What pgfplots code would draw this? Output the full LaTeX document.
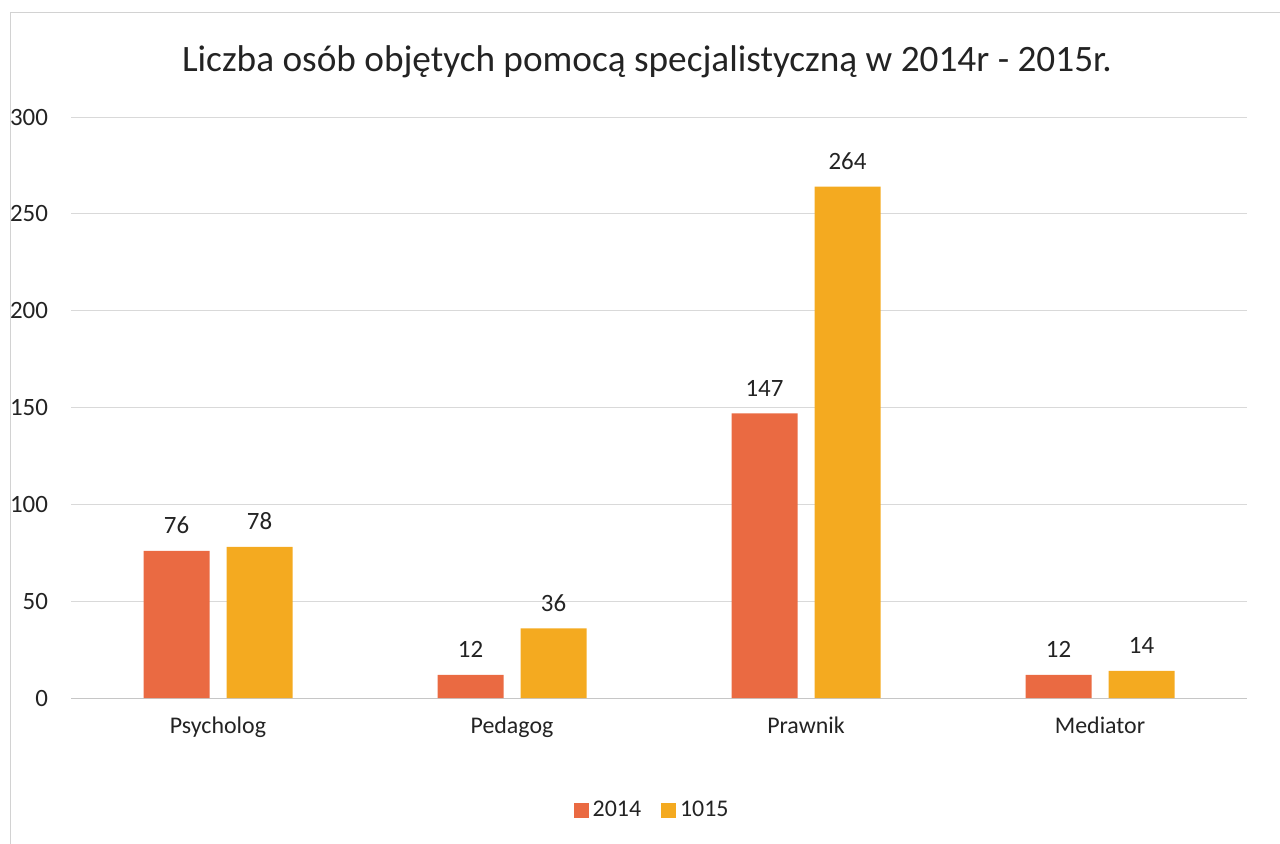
\documentclass[border=0pt]{standalone}
\usepackage{pgfplots}
\pgfplotsset{compat=1.18}
\usepackage{fontspec}
\setmainfont{Carlito}
\definecolor{cA}{RGB}{234,106,66}
\definecolor{cB}{RGB}{244,170,32}
\definecolor{txt}{RGB}{35,35,35}
\begin{document}
\begin{tikzpicture}[x=1bp,y=1bp]
\useasboundingbox (0,0) rectangle (640,-421.5);
\draw[gray!35] (5,-430) -- (5,-6) -- (650,-6);
\node[txt] at (323.5,-31) {\fontsize{18.7}{22}\selectfont Liczba osób objętych pomocą specjalistyczną w 2014r - 2015r.};
\begin{axis}[
  at={(35.5bp,-349bp)}, anchor=south west,
  scale only axis, width=588bp, height=290.5bp,
  ymin=0, ymax=300, xmin=-0.5, xmax=3.5,
  ybar=8.5bp, bar width=33bp,
  axis x line=bottom, axis y line=left,
  x axis line style={-, draw=gray!45},
  y axis line style={draw=none},
  major tick length=0pt,
  ytick={0,50,...,300},
  ymajorgrids, grid style={gray!30},
  xtick=data,
  xticklabels={Psycholog,Pedagog,Prawnik,Mediator},
  xticklabel style={font=\fontsize{12}{14}\selectfont, text=txt, yshift=-6bp},
  yticklabel style={font=\fontsize{12.5}{14}\selectfont, text=txt, xshift=-8bp},
  /pgf/number format/assume math mode=true,
  nodes near coords,
  every node near coord/.append style={font=\fontsize{12.5}{14}\selectfont, text=txt, yshift=5bp},
  legend style={at={(0.495,-0.193)}, anchor=center, legend columns=-1, draw=none,
    font=\fontsize{12}{14}\selectfont, text=txt,
    /tikz/every even column/.append style={column sep=8bp}},
  legend image code/.code={\fill[#1,draw=none] (0bp,-3.75bp) rectangle (7.5bp,3.75bp);},
]
\addplot[fill=cA, draw=none] coordinates {(0,76) (1,12) (2,147) (3,12)};
\addplot[fill=cB, draw=none] coordinates {(0,78) (1,36) (2,264) (3,14)};
\legend{2014,1015}
\end{axis}
\end{tikzpicture}
\end{document}
